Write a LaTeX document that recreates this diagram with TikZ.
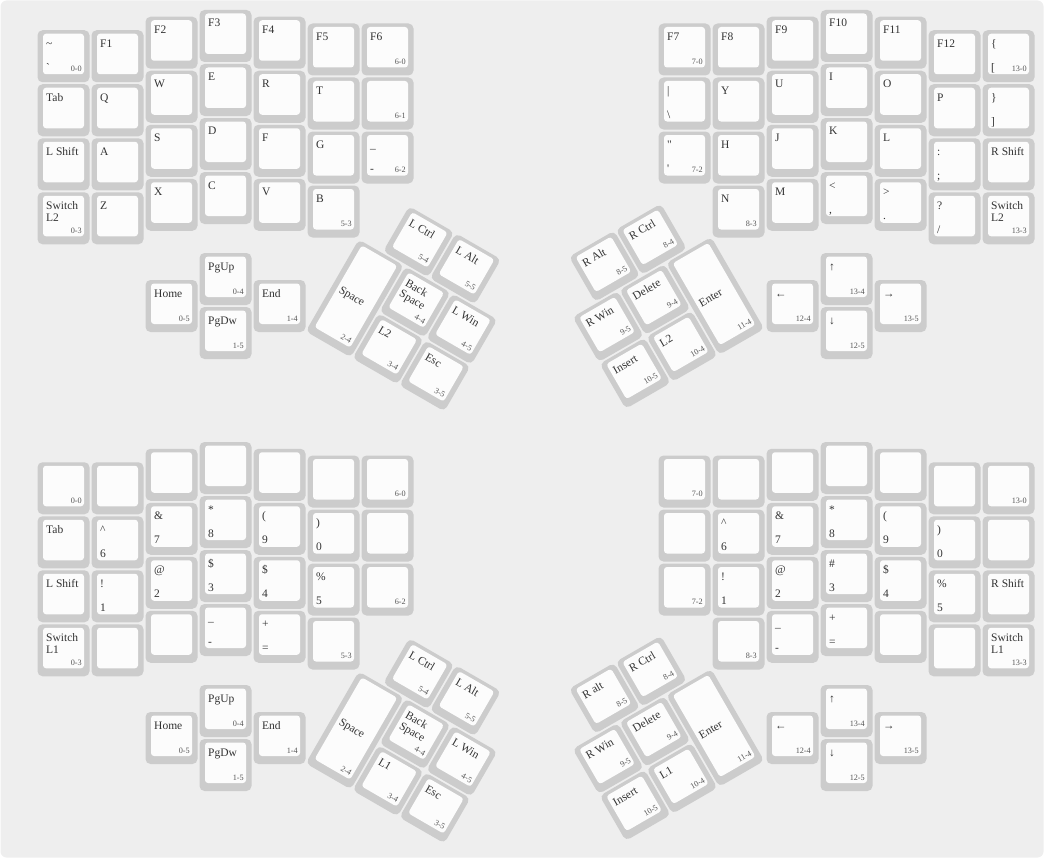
\documentclass[tikz,border=0pt]{standalone}
\usepackage{fontspec}
\setmainfont{Liberation Serif}

\definecolor{bgcol}{HTML}{EEEEEE}
\definecolor{capcol}{HTML}{CCCCCC}
\definecolor{facecol}{HTML}{FCFCFC}
\definecolor{lgdcol}{HTML}{333333}
\definecolor{idcol}{HTML}{555555}

% two-line legend, baseline on the first line
\newcommand{\twoline}[2]{\vtop{\baselineskip=12pt\hbox{#1}\hbox{#2}}}
% \kb[height]{x}{y}{name}{top legend}{bottom legend}{matrix id}, x and y in key units
\newcommand{\kb}[7][1]{%
  \node[keycap, minimum height={#1*54-2}] (#4) at ({#2*54+27},{#3*54+#1*27}) {};
  \node[keyface, minimum height={#1*54-13.5}] at ({#2*54+27},{#3*54+#1*27-2.25}) {};
  \if\relax\detokenize{#5}\relax\else
    \node[lgd] at ({#2*54+9.5},{#3*54+18+(#1-1)*39}) {#5};\fi
  \if\relax\detokenize{#6}\relax\else
    \node[lgd] at ({#2*54+9.5},{#3*54+#1*54-12}) {#6};\fi
  \if\relax\detokenize{#7}\relax\else
    \node[idl] at ({#2*54+45.5},{#3*54+#1*54-12}) {#7};\fi
}

\begin{document}
\begin{tikzpicture}[
    x=1pt, y=-1pt,
    keycap/.style={rectangle, rounded corners=5pt, fill=capcol,
                minimum width=52pt, inner sep=0pt},
    keyface/.style={rectangle, rounded corners=3pt, fill=facecol,
                 minimum width=41pt, inner sep=0pt},
    lgd/.style={anchor=base west, inner sep=0pt, text=lgdcol,
                font=\fontsize{11.5}{12}\selectfont},
    idl/.style={anchor=base east, inner sep=0pt, text=idcol,
                font=\fontsize{8.2}{9}\selectfont},
  ]
  \useasboundingbox (0,0) rectangle (1045,859);
  \fill[bgcol, rounded corners=6pt] (0.5,0.5) rectangle (1043.5,857.5);

  % layer 2 (top)
  \begin{scope}[shift={(36.5,9)}]
    \kb{0}{0.375}{t0r0}{\textasciitilde}{\textasciigrave}{0-0}
    \kb{0}{1.375}{t0r1}{Tab}{}{}
    \kb{0}{2.375}{t0r2}{L Shift}{}{}
    \kb{0}{3.375}{t0r3}{\twoline{Switch}{L2}}{}{0-3}
    \kb{1}{0.375}{t1r0}{F1}{}{}
    \kb{1}{1.375}{t1r1}{Q}{}{}
    \kb{1}{2.375}{t1r2}{A}{}{}
    \kb{1}{3.375}{t1r3}{Z}{}{}
    \kb{2}{0.125}{t2r0}{F2}{}{}
    \kb{2}{1.125}{t2r1}{W}{}{}
    \kb{2}{2.125}{t2r2}{S}{}{}
    \kb{2}{3.125}{t2r3}{X}{}{}
    \kb{3}{0}{t3r0}{F3}{}{}
    \kb{3}{1}{t3r1}{E}{}{}
    \kb{3}{2}{t3r2}{D}{}{}
    \kb{3}{3}{t3r3}{C}{}{}
    \kb{4}{0.125}{t4r0}{F4}{}{}
    \kb{4}{1.125}{t4r1}{R}{}{}
    \kb{4}{2.125}{t4r2}{F}{}{}
    \kb{4}{3.125}{t4r3}{V}{}{}
    \kb{5}{0.25}{t5r0}{F5}{}{}
    \kb{5}{1.25}{t5r1}{T}{}{}
    \kb{5}{2.25}{t5r2}{G}{}{}
    \kb{5}{3.25}{t5r3}{B}{}{5-3}
    \kb{6}{0.25}{t6r0}{F6}{}{6-0}
    \kb{6}{1.25}{t6r1}{}{}{6-1}
    \kb{6}{2.25}{t6r2}{\_}{-}{6-2}
    \kb{2}{5}{tHome}{Home}{}{0-5}
    \kb{3}{4.5}{tPgUp}{PgUp}{}{0-4}
    \kb{3}{5.5}{tPgDw}{PgDw}{}{1-5}
    \kb{4}{5}{tEnd}{End}{}{1-4}
    \kb{11.5}{0.25}{t7r0}{F7}{}{7-0}
    \kb{11.5}{1.25}{t7r1}{\textbar}{\textbackslash}{}
    \kb{11.5}{2.25}{t7r2}{\textquotedbl}{\textquotesingle}{7-2}
    \kb{12.5}{0.25}{t8r0}{F8}{}{}
    \kb{12.5}{1.25}{t8r1}{Y}{}{}
    \kb{12.5}{2.25}{t8r2}{H}{}{}
    \kb{12.5}{3.25}{t8r3}{N}{}{8-3}
    \kb{13.5}{0.125}{t9r0}{F9}{}{}
    \kb{13.5}{1.125}{t9r1}{U}{}{}
    \kb{13.5}{2.125}{t9r2}{J}{}{}
    \kb{13.5}{3.125}{t9r3}{M}{}{}
    \kb{14.5}{0}{t10r0}{F10}{}{}
    \kb{14.5}{1}{t10r1}{I}{}{}
    \kb{14.5}{2}{t10r2}{K}{}{}
    \kb{14.5}{3}{t10r3}{<}{,}{}
    \kb{15.5}{0.125}{t11r0}{F11}{}{}
    \kb{15.5}{1.125}{t11r1}{O}{}{}
    \kb{15.5}{2.125}{t11r2}{L}{}{}
    \kb{15.5}{3.125}{t11r3}{>}{.}{}
    \kb{16.5}{0.375}{t12r0}{F12}{}{}
    \kb{16.5}{1.375}{t12r1}{P}{}{}
    \kb{16.5}{2.375}{t12r2}{:}{;}{}
    \kb{16.5}{3.375}{t12r3}{?}{/}{}
    \kb{17.5}{0.375}{t13r0}{\{}{[}{13-0}
    \kb{17.5}{1.375}{t13r1}{\}}{]}{}
    \kb{17.5}{2.375}{t13r2}{R Shift}{}{}
    \kb{17.5}{3.375}{t13r3}{\twoline{Switch}{L2}}{}{13-3}
    \kb{13.5}{5}{tLeft}{←}{}{12-4}
    \kb{14.5}{4.5}{tUp}{↑}{}{13-4}
    \kb{14.5}{5.5}{tDown}{↓}{}{12-5}
    \kb{15.5}{5}{tRight}{→}{}{13-5}
  \end{scope}
  \begin{scope}[shift={(385.4,191.4)}, rotate=-30, transform shape]
    \kb{0.5}{0}{tLCtrl}{L Ctrl}{}{5-4}
    \kb{1.5}{0}{tLAlt}{L Alt}{}{5-5}
    \kb[2]{0}{1}{tSpace}{Space}{}{2-4}
    \kb{1}{1}{tBksp}{\twoline{Back}{Space}}{}{4-4}
    \kb{2}{1}{tLWin}{L Win}{}{4-5}
    \kb{1}{2}{tLayer}{L2}{}{3-4}
    \kb{2}{2}{tEsc}{Esc}{}{3-5}
  \end{scope}
  \begin{scope}[shift={(544.3,269.9)}, rotate=30, transform shape]
    \kb{0.5}{0}{tRAlt}{R Alt}{}{8-5}
    \kb{1.5}{0}{tRCtrl}{R Ctrl}{}{8-4}
    \kb{0}{1}{tRWin}{R Win}{}{9-5}
    \kb{1}{1}{tDel}{Delete}{}{9-4}
    \kb[2]{2}{1}{tEnter}{Enter}{}{11-4}
    \kb{0}{2}{tIns}{Insert}{}{10-5}
    \kb{1}{2}{tRLayer}{L2}{}{10-4}
  \end{scope}

  % layer 1 (bottom)
  \begin{scope}[shift={(36.5,441)}]
    \kb{0}{0.375}{b0r0}{}{}{0-0}
    \kb{0}{1.375}{b0r1}{Tab}{}{}
    \kb{0}{2.375}{b0r2}{L Shift}{}{}
    \kb{0}{3.375}{b0r3}{\twoline{Switch}{L1}}{}{0-3}
    \kb{1}{0.375}{b1r0}{}{}{}
    \kb{1}{1.375}{b1r1}{\textasciicircum}{6}{}
    \kb{1}{2.375}{b1r2}{!}{1}{}
    \kb{1}{3.375}{b1r3}{}{}{}
    \kb{2}{0.125}{b2r0}{}{}{}
    \kb{2}{1.125}{b2r1}{\&}{7}{}
    \kb{2}{2.125}{b2r2}{@}{2}{}
    \kb{2}{3.125}{b2r3}{}{}{}
    \kb{3}{0}{b3r0}{}{}{}
    \kb{3}{1}{b3r1}{*}{8}{}
    \kb{3}{2}{b3r2}{\$}{3}{}
    \kb{3}{3}{b3r3}{\_}{-}{}
    \kb{4}{0.125}{b4r0}{}{}{}
    \kb{4}{1.125}{b4r1}{(}{9}{}
    \kb{4}{2.125}{b4r2}{\$}{4}{}
    \kb{4}{3.125}{b4r3}{+}{=}{}
    \kb{5}{0.25}{b5r0}{}{}{}
    \kb{5}{1.25}{b5r1}{)}{0}{}
    \kb{5}{2.25}{b5r2}{\%}{5}{}
    \kb{5}{3.25}{b5r3}{}{}{5-3}
    \kb{6}{0.25}{b6r0}{}{}{6-0}
    \kb{6}{1.25}{b6r1}{}{}{}
    \kb{6}{2.25}{b6r2}{}{}{6-2}
    \kb{2}{5}{bHome}{Home}{}{0-5}
    \kb{3}{4.5}{bPgUp}{PgUp}{}{0-4}
    \kb{3}{5.5}{bPgDw}{PgDw}{}{1-5}
    \kb{4}{5}{bEnd}{End}{}{1-4}
    \kb{11.5}{0.25}{b7r0}{}{}{7-0}
    \kb{11.5}{1.25}{b7r1}{}{}{}
    \kb{11.5}{2.25}{b7r2}{}{}{7-2}
    \kb{12.5}{0.25}{b8r0}{}{}{}
    \kb{12.5}{1.25}{b8r1}{\textasciicircum}{6}{}
    \kb{12.5}{2.25}{b8r2}{!}{1}{}
    \kb{12.5}{3.25}{b8r3}{}{}{8-3}
    \kb{13.5}{0.125}{b9r0}{}{}{}
    \kb{13.5}{1.125}{b9r1}{\&}{7}{}
    \kb{13.5}{2.125}{b9r2}{@}{2}{}
    \kb{13.5}{3.125}{b9r3}{\_}{-}{}
    \kb{14.5}{0}{b10r0}{}{}{}
    \kb{14.5}{1}{b10r1}{*}{8}{}
    \kb{14.5}{2}{b10r2}{\#}{3}{}
    \kb{14.5}{3}{b10r3}{+}{=}{}
    \kb{15.5}{0.125}{b11r0}{}{}{}
    \kb{15.5}{1.125}{b11r1}{(}{9}{}
    \kb{15.5}{2.125}{b11r2}{\$}{4}{}
    \kb{15.5}{3.125}{b11r3}{}{}{}
    \kb{16.5}{0.375}{b12r0}{}{}{}
    \kb{16.5}{1.375}{b12r1}{)}{0}{}
    \kb{16.5}{2.375}{b12r2}{\%}{5}{}
    \kb{16.5}{3.375}{b12r3}{}{}{}
    \kb{17.5}{0.375}{b13r0}{}{}{13-0}
    \kb{17.5}{1.375}{b13r1}{}{}{}
    \kb{17.5}{2.375}{b13r2}{R Shift}{}{}
    \kb{17.5}{3.375}{b13r3}{\twoline{Switch}{L1}}{}{13-3}
    \kb{13.5}{5}{bLeft}{←}{}{12-4}
    \kb{14.5}{4.5}{bUp}{↑}{}{13-4}
    \kb{14.5}{5.5}{bDown}{↓}{}{12-5}
    \kb{15.5}{5}{bRight}{→}{}{13-5}
  \end{scope}
  \begin{scope}[shift={(385.4,623.4)}, rotate=-30, transform shape]
    \kb{0.5}{0}{bLCtrl}{L Ctrl}{}{5-4}
    \kb{1.5}{0}{bLAlt}{L Alt}{}{5-5}
    \kb[2]{0}{1}{bSpace}{Space}{}{2-4}
    \kb{1}{1}{bBksp}{\twoline{Back}{Space}}{}{4-4}
    \kb{2}{1}{bLWin}{L Win}{}{4-5}
    \kb{1}{2}{bLayer}{L1}{}{3-4}
    \kb{2}{2}{bEsc}{Esc}{}{3-5}
  \end{scope}
  \begin{scope}[shift={(544.3,701.9)}, rotate=30, transform shape]
    \kb{0.5}{0}{bRAlt}{R alt}{}{8-5}
    \kb{1.5}{0}{bRCtrl}{R Ctrl}{}{8-4}
    \kb{0}{1}{bRWin}{R Win}{}{9-5}
    \kb{1}{1}{bDel}{Delete}{}{9-4}
    \kb[2]{2}{1}{bEnter}{Enter}{}{11-4}
    \kb{0}{2}{bIns}{Insert}{}{10-5}
    \kb{1}{2}{bRLayer}{L1}{}{10-4}
  \end{scope}
\end{tikzpicture}
\end{document}
